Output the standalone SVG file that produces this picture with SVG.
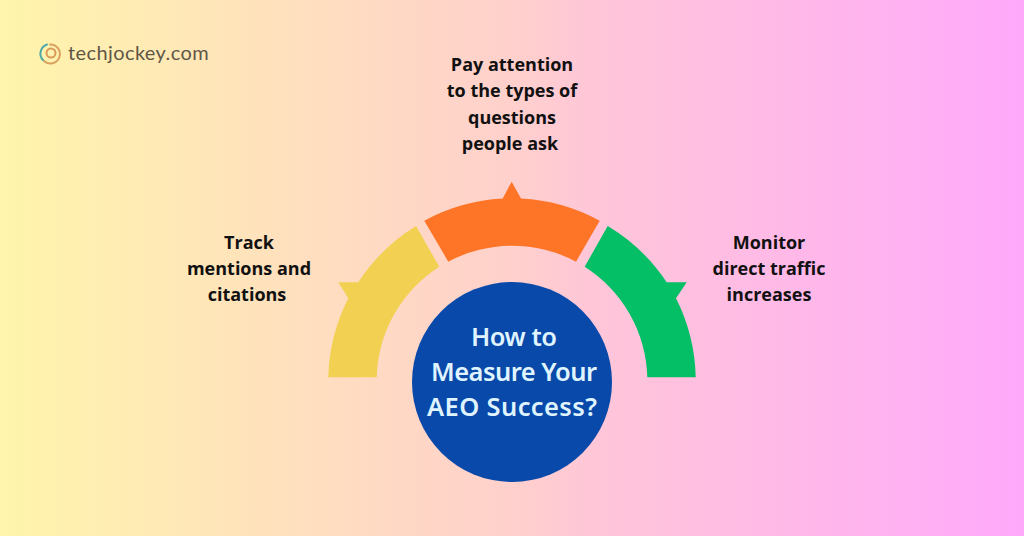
<svg xmlns="http://www.w3.org/2000/svg" width="1024" height="536" viewBox="0 0 1024 536">
<style>
.l{font-family:"Open Sans","Noto Sans",sans-serif;font-weight:700;font-size:18px;fill:#111;text-anchor:middle}
.h{font-family:"Noto Sans","Open Sans",sans-serif;font-weight:600;font-size:25.500px;fill:#dff4ff;text-anchor:middle}
.ring{fill:none;stroke-width:2;stroke-linecap:round}
</style>
<defs><linearGradient id="bg" x1="0" y1="0" x2="1" y2="0">
<stop offset="0" stop-color="#fff5ab"/><stop offset="0.5" stop-color="#ffd0cc"/><stop offset="0.58" stop-color="#ffc6d8"/><stop offset="1" stop-color="#ffa9fb"/>
</linearGradient></defs>
<rect width="1024" height="536" fill="url(#bg)"/>
<g id="logo">
<path class="ring" stroke="#d9a060" d="M50 44.500A9.500 9.500 0 1 1 44 61"/>
<path class="ring" stroke="#4fa8a8" d="M43 60A9.500 9.500 0 0 1 47 44.500"/>
<circle class="ring" cx="51" cy="53" r="4.500" stroke="#d99a5a"/>
<text x="68" y="59.500" font-family="Lato,'Open Sans',sans-serif" font-size="20" letter-spacing="0.400" fill="#5f5646">techjockey.com</text>
</g>
<g id="connectors"/>
<g id="node-track">
<path fill="#f2d052" d="M328.300 377.300A184 184 0 0 1 348.300 298.300L338.300 282.300L358.300 282.300A184 184 0 0 1 416 226L439.300 266.700A135 135 0 0 0 376.700 377.300Z"/>
<text class="l" x="249" y="249">Track</text>
<text class="l" x="249" y="275">mentions and</text>
<text class="l" x="247" y="301">citations</text>
</g>
<g id="node-questions">
<path fill="#ff7527" d="M424.300 220.700A184 184 0 0 1 502.700 198.500L511.700 181.700L521 198.500A184 184 0 0 1 599.700 220.700L576 261.700A135 135 0 0 0 448.300 261.700Z"/>
<text class="l" x="512" y="71">Pay attention</text>
<text class="l" x="512" y="97">to the types of</text>
<text class="l" x="512" y="124">questions</text>
<text class="l" x="510" y="150">people ask</text>
</g>
<g id="node-direct">
<path fill="#04bf66" d="M695.700 377.300A184 184 0 0 0 676 298.300L686.700 282.300L666.700 282.300A184 184 0 0 0 607.700 226L584.700 266.700A135 135 0 0 1 647.300 377.300Z"/>
<text class="l" x="769" y="249">Monitor</text>
<text class="l" x="769" y="275">direct traffic</text>
<text class="l" x="769" y="301">increases</text>
</g>
<g id="node-center">
<circle cx="512" cy="382" r="100" fill="#0849a9"/>
<text class="h" x="514" y="346" textLength="86">How to</text>
<text class="h" x="514" y="381" textLength="166">Measure Your</text>
<text class="h" x="512" y="416" textLength="170">AEO Success?</text>
</g>
</svg>
